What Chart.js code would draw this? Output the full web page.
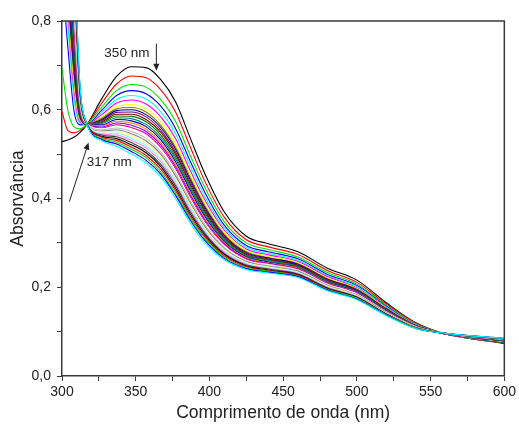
<!DOCTYPE html>
<html>
<head>
<meta charset="utf-8">
<script src="https://cdn.jsdelivr.net/npm/chart.js@4/dist/chart.umd.min.js"></script>
<style>
html,body{margin:0;padding:0;background:#fff;}
#wrap{width:519px;height:429px;position:relative;}
</style>
</head>
<body>
<div id="wrap"><canvas id="c" width="519" height="429"></canvas></div>
<script>
// Wavelength sample points (nm)
const wavelengths = [300,304,308,312,317,327,337,347,357,367,377,387,397,410,425,440,460,480,500,520,540,560,600];

// Absorbance spectra
const s01 = [0.528,0.532,0.538,0.548,0.567,0.625,0.675,0.697,0.695,0.668,0.618,0.536,0.455,0.370,0.315,0.298,0.280,0.243,0.216,0.165,0.120,0.095,0.073];
const s02 = [0.596,0.553,0.548,0.553,0.567,0.615,0.658,0.676,0.672,0.645,0.595,0.516,0.438,0.358,0.307,0.291,0.274,0.238,0.211,0.162,0.119,0.095,0.074];
const s03 = [0.693,0.598,0.562,0.557,0.567,0.606,0.643,0.657,0.651,0.623,0.574,0.497,0.424,0.348,0.300,0.285,0.268,0.233,0.207,0.159,0.117,0.095,0.075];
const s04 = [0.90,0.74,0.600,0.566,0.567,0.599,0.632,0.643,0.636,0.608,0.558,0.484,0.413,0.340,0.294,0.280,0.264,0.229,0.204,0.157,0.116,0.095,0.076];
const s05 = [0.98,0.79,0.630,0.570,0.567,0.594,0.623,0.632,0.624,0.595,0.546,0.473,0.404,0.334,0.290,0.276,0.261,0.226,0.202,0.155,0.116,0.095,0.077];
const s06 = [1.02,0.82,0.650,0.574,0.568,0.589,0.615,0.622,0.613,0.584,0.535,0.463,0.396,0.329,0.286,0.273,0.258,0.224,0.199,0.154,0.115,0.095,0.078];
const s07 = [1.06,0.84,0.665,0.578,0.567,0.584,0.607,0.612,0.602,0.573,0.524,0.454,0.388,0.324,0.283,0.270,0.255,0.221,0.197,0.153,0.114,0.095,0.078];
const s08 = [1.10,0.86,0.680,0.582,0.568,0.581,0.602,0.605,0.595,0.565,0.516,0.447,0.383,0.320,0.280,0.267,0.253,0.219,0.196,0.152,0.114,0.095,0.079];
const s09 = [1.14,0.88,0.695,0.586,0.567,0.578,0.598,0.600,0.589,0.560,0.511,0.442,0.379,0.317,0.278,0.266,0.252,0.218,0.194,0.151,0.114,0.095,0.079];
const s10 = [1.18,0.90,0.710,0.590,0.568,0.576,0.594,0.595,0.584,0.554,0.505,0.437,0.375,0.314,0.276,0.264,0.250,0.217,0.193,0.150,0.113,0.095,0.079];
const s11 = [1.22,0.92,0.725,0.594,0.567,0.573,0.590,0.590,0.578,0.549,0.500,0.432,0.371,0.311,0.274,0.262,0.249,0.215,0.192,0.149,0.113,0.095,0.080];
const s12 = [1.26,0.94,0.740,0.598,0.568,0.571,0.586,0.585,0.573,0.543,0.494,0.427,0.367,0.309,0.272,0.261,0.247,0.214,0.191,0.149,0.113,0.095,0.080];
const s13 = [1.30,0.96,0.755,0.602,0.567,0.569,0.582,0.580,0.567,0.537,0.489,0.423,0.363,0.306,0.270,0.259,0.246,0.213,0.190,0.148,0.112,0.095,0.080];
const s14 = [1.34,0.98,0.770,0.606,0.568,0.566,0.578,0.575,0.562,0.532,0.483,0.418,0.359,0.303,0.269,0.257,0.244,0.211,0.189,0.147,0.112,0.095,0.081];
const s15 = [1.38,1.00,0.785,0.610,0.567,0.564,0.574,0.570,0.556,0.526,0.477,0.413,0.355,0.300,0.267,0.255,0.243,0.210,0.188,0.146,0.112,0.095,0.081];
const s16 = [1.42,1.02,0.800,0.614,0.568,0.561,0.570,0.565,0.551,0.521,0.472,0.408,0.351,0.298,0.265,0.254,0.241,0.209,0.187,0.146,0.111,0.095,0.081];
const s17 = [1.46,1.04,0.815,0.618,0.567,0.559,0.566,0.560,0.546,0.515,0.467,0.403,0.347,0.295,0.263,0.252,0.240,0.208,0.185,0.145,0.111,0.095,0.081];
const s18 = [1.50,1.06,0.830,0.622,0.568,0.557,0.563,0.556,0.541,0.511,0.462,0.399,0.344,0.293,0.261,0.251,0.239,0.207,0.185,0.144,0.111,0.096,0.082];
const s19 = [1.54,1.08,0.845,0.626,0.567,0.555,0.559,0.551,0.536,0.505,0.457,0.395,0.340,0.290,0.259,0.249,0.237,0.205,0.183,0.144,0.110,0.096,0.082];
const s20 = [1.58,1.10,0.860,0.630,0.568,0.552,0.555,0.546,0.530,0.500,0.451,0.390,0.336,0.287,0.258,0.247,0.236,0.204,0.182,0.143,0.110,0.096,0.082];
const s21 = [1.62,1.12,0.875,0.634,0.567,0.550,0.551,0.541,0.525,0.494,0.445,0.385,0.332,0.285,0.256,0.246,0.234,0.203,0.181,0.142,0.110,0.096,0.083];
const s22 = [1.66,1.14,0.890,0.638,0.568,0.547,0.547,0.536,0.519,0.488,0.440,0.380,0.328,0.282,0.254,0.244,0.233,0.201,0.180,0.141,0.109,0.096,0.083];
const s23 = [1.70,1.16,0.905,0.642,0.567,0.545,0.543,0.531,0.514,0.483,0.434,0.375,0.324,0.279,0.252,0.242,0.231,0.200,0.179,0.141,0.109,0.096,0.083];
const s24 = [1.74,1.18,0.920,0.646,0.568,0.543,0.539,0.526,0.508,0.477,0.429,0.370,0.321,0.276,0.250,0.241,0.230,0.199,0.178,0.140,0.109,0.096,0.083];
const s25 = [1.78,1.20,0.935,0.650,0.567,0.540,0.535,0.521,0.503,0.472,0.423,0.365,0.317,0.274,0.248,0.239,0.228,0.197,0.177,0.139,0.108,0.096,0.084];
const s26 = [1.82,1.22,0.950,0.654,0.568,0.538,0.531,0.516,0.497,0.466,0.418,0.360,0.313,0.271,0.246,0.237,0.227,0.196,0.176,0.138,0.108,0.096,0.084];
const s27 = [1.86,1.24,0.965,0.658,0.567,0.535,0.527,0.511,0.492,0.460,0.412,0.356,0.309,0.268,0.244,0.236,0.225,0.195,0.175,0.138,0.108,0.096,0.084];
const s28 = [1.90,1.26,0.980,0.662,0.568,0.533,0.523,0.506,0.486,0.455,0.407,0.351,0.305,0.265,0.242,0.234,0.224,0.194,0.173,0.137,0.107,0.096,0.085];
const s29 = [1.94,1.28,0.995,0.666,0.567,0.530,0.518,0.500,0.480,0.448,0.400,0.345,0.300,0.262,0.240,0.232,0.222,0.192,0.172,0.136,0.107,0.096,0.085];

const spectra = [s01,s02,s03,s04,s05,s06,s07,s08,s09,s10,s11,s12,s13,s14,s15,s16,s17,s18,s19,s20,s21,s22,s23,s24,s25,s26,s27,s28,s29];

// Origin-style colour cycle
const palette = ['#000000','#FF0000','#00E000','#0000FF','#00FFFF','#FF00FF','#FFFF00','#808000','#000080','#800080','#800000','#008000','#008080','#0000A0','#FF8000','#8000FF','#FF0080','#FFFFFF','#C0C0C0','#808080','#FFFF80','#80FFFF','#FF80FF','#404040'];

// Tick labels
const yTickValues = [0.0,0.2,0.4,0.6,0.8];
const xTickValues = [300,350,400,450,500,550,600];

// Annotations (text, data coordinates)
const annoLabels = [
  {text:'350 nm', x:344, y:0.728},
  {text:'317 nm', x:332, y:0.481}
];
const annoArrows = [
  {x1:364, y1:0.749, x2:364, y2:0.688},
  {x1:305, y1:0.393, x2:318, y2:0.526}
];

const FONT = '"Liberation Sans", Arial, sans-serif';
const AXIS_COLOR = '#3a3a3a';

const datasets = spectra.map((vals, i) => ({
  label: 'S' + (i+1),
  data: wavelengths.map((w, j) => ({x: w, y: vals[j]})),
  borderColor: palette[i % palette.length],
  borderWidth: 1.1,
  pointRadius: 0,
  fill: false,
  cubicInterpolationMode: 'monotone',
  order: spectra.length - i
}));

const framePlugin = {
  id: 'frame',
  afterDraw(chart) {
    const {ctx, chartArea: a} = chart;
    ctx.save();
    ctx.strokeStyle = AXIS_COLOR;
    ctx.lineWidth = 1.5;
    ctx.beginPath();
    ctx.moveTo(a.left, a.top);
    ctx.lineTo(a.right, a.top);
    ctx.lineTo(a.right, a.bottom);
    ctx.stroke();
    ctx.restore();
  }
};

const annoPlugin = {
  id: 'anno',
  afterDatasetsDraw(chart) {
    const {ctx, scales: {x, y}} = chart;
    ctx.save();
    ctx.fillStyle = '#222';
    ctx.font = '13.5px ' + FONT;
    ctx.textAlign = 'center';
    ctx.textBaseline = 'middle';
    annoLabels.forEach(l => ctx.fillText(l.text, x.getPixelForValue(l.x), y.getPixelForValue(l.y)));
    ctx.strokeStyle = '#222';
    ctx.lineWidth = 1;
    annoArrows.forEach(a => {
      const px1 = x.getPixelForValue(a.x1), py1 = y.getPixelForValue(a.y1);
      const px2 = x.getPixelForValue(a.x2), py2 = y.getPixelForValue(a.y2);
      const ang = Math.atan2(py2 - py1, px2 - px1);
      const hl = 7, hw = 3;
      ctx.beginPath();
      ctx.moveTo(px1, py1);
      ctx.lineTo(px2 - Math.cos(ang) * hl * 0.8, py2 - Math.sin(ang) * hl * 0.8);
      ctx.stroke();
      ctx.beginPath();
      ctx.moveTo(px2, py2);
      ctx.lineTo(px2 - Math.cos(ang) * hl - Math.sin(ang) * hw, py2 - Math.sin(ang) * hl + Math.cos(ang) * hw);
      ctx.lineTo(px2 - Math.cos(ang) * hl + Math.sin(ang) * hw, py2 - Math.sin(ang) * hl - Math.cos(ang) * hw);
      ctx.closePath();
      ctx.fill();
    });
    ctx.restore();
  }
};

new Chart(document.getElementById('c'), {
  type: 'line',
  data: { datasets },
  options: {
    responsive: false,
    animation: false,
    events: [],
    layout: { padding: { left: 0, top: 21, right: 13, bottom: 0 } },
    plugins: { legend: { display: false }, tooltip: { enabled: false } },
    scales: {
      x: {
        type: 'linear',
        min: 300, max: 600,
        afterFit: s => { s.height = 53; },
        border: { display: true, color: AXIS_COLOR, width: 1.5 },
        grid: { drawOnChartArea: false, drawTicks: true, tickLength: 5, color: AXIS_COLOR, lineWidth: 1 },
        ticks: {
          stepSize: 25,
          padding: 3,
          maxRotation: 0,
          autoSkip: false,
          color: '#222',
          font: { family: FONT, size: 14 },
          callback: v => xTickValues.includes(v) ? String(v) : ''
        },
        title: {
          display: true,
          text: 'Comprimento de onda (nm)',
          color: '#222',
          font: { family: FONT, size: 17.5 },
          padding: { top: 0, bottom: 5 }
        }
      },
      y: {
        type: 'linear',
        min: 0, max: 0.8,
        afterFit: s => { s.width = 62; },
        border: { display: true, color: AXIS_COLOR, width: 1.5 },
        grid: { drawOnChartArea: false, drawTicks: true, tickLength: 5, color: AXIS_COLOR, lineWidth: 1 },
        ticks: {
          stepSize: 0.1,
          padding: 6,
          autoSkip: false,
          color: '#222',
          font: { family: FONT, size: 14 },
          callback: v => {
            const r = Math.round(v * 10) / 10;
            return yTickValues.some(t => Math.abs(t - r) < 1e-9) ? r.toFixed(1).replace('.', ',') : '';
          }
        },
        title: {
          display: true,
          text: 'Absorvância',
          color: '#222',
          font: { family: FONT, size: 17.5 },
          padding: { top: 8, bottom: 0 }
        }
      }
    }
  },
  plugins: [framePlugin, annoPlugin]
});
</script>
</body>
</html>
